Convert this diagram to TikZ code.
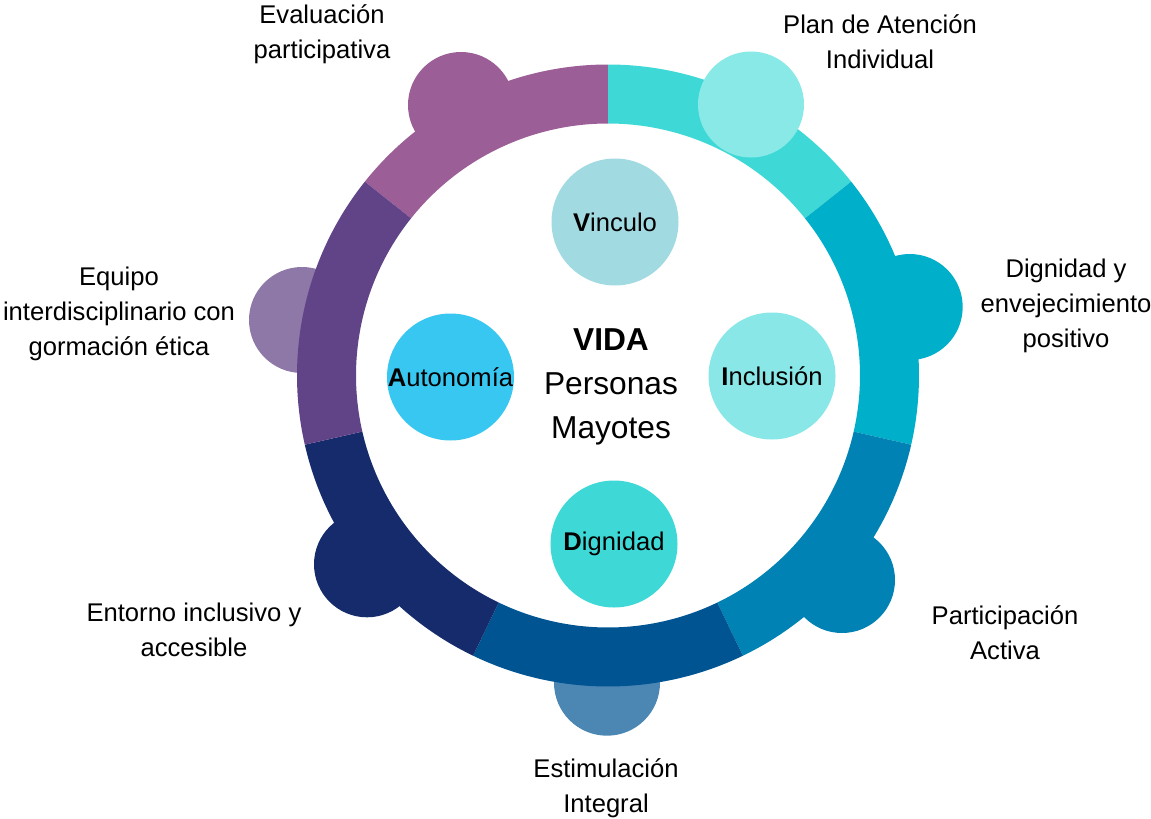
\documentclass[tikz,border=0pt]{standalone}
\usepackage{fontspec}
\setmainfont{Liberation Sans}
\usetikzlibrary{calc}
\definecolor{cEval}{HTML}{9B5E96}
\definecolor{cPlan}{HTML}{3ED9D6}
\definecolor{cPlanL}{HTML}{88E9E7}
\definecolor{cDig}{HTML}{00AFC9}
\definecolor{cPart}{HTML}{0083B4}
\definecolor{cEst}{HTML}{005492}
\definecolor{cEstL}{HTML}{4C87B4}
\definecolor{cEnt}{HTML}{152B6B}
\definecolor{cEq}{HTML}{614387}
\definecolor{cEqL}{HTML}{8E78A7}
\definecolor{cVin}{HTML}{A2DAE2}
\definecolor{cAut}{HTML}{38C7F0}
\definecolor{cInc}{HTML}{89E7E8}
\definecolor{cDgn}{HTML}{3ED9D6}
\newcommand\ringseg[3]{\fill[#3] ([shift={(#1:311pt)}]O) arc[start angle=#1,end angle=#2,radius=311pt] -- ([shift={(#2:252pt)}]O) arc[start angle=#2,end angle=#1,radius=252pt] -- cycle;}
\begin{document}
\begin{tikzpicture}[x=1pt,y=1pt,
  bump/.style={circle, inner sep=0pt, minimum size=106pt},
  innerc/.style={circle, inner sep=0pt, minimum size=127pt, font=\fontsize{25.6}{30}\selectfont},
  lbl/.style={align=center, font=\fontsize{25.6}{35}\selectfont, inner sep=0pt},
]
\useasboundingbox (0,0) rectangle (1151,-819);
\coordinate (O) at (608,-375.5);
% bumps behind the ring
\node[bump, fill=cEstL] (bEst) at (607,-682.7) {};
\node[bump, fill=cEqL] (bEq) at (302,-320) {};
\node[bump, fill=cEval] (bEval) at (461,-105) {};
\node[bump, fill=cDig] (bDig) at (909.7,-307) {};
\node[bump, fill=cPart] (bPart) at (842,-580) {};
\node[bump, fill=cEnt] (bEnt) at (367,-564.3) {};
% ring
\ringseg{90}{141.43}{cEval}
\ringseg{38.57}{90}{cPlan}
\ringseg{-12.86}{38.57}{cDig}
\ringseg{-64.29}{-12.86}{cPart}
\ringseg{-115.71}{-64.29}{cEst}
\ringseg{-167.14}{-115.71}{cEnt}
\ringseg{141.43}{192.86}{cEq}
% bump in front
\node[bump, fill=cPlanL] (bPlan) at (751,-104.5) {};
% inner circles
\node[innerc, fill=cVin] (vin) at (615,-222) {\textbf{V}inculo};
\node[innerc, fill=cAut] (aut) at (450.5,-377) {\textbf{A}utonomía};
\node[innerc, fill=cInc] (inc) at (772,-376) {\textbf{I}nclusión};
\node[innerc, fill=cDgn] (dgn) at (614,-544) {\textbf{D}ignidad};
% centre
\node[align=center, inner sep=0pt, font=\fontsize{31.7}{44}\selectfont] (vida) at (611,-386.5) {\textbf{VIDA}\\Personas\\Mayotes};
% labels
\node[lbl] (lEval) at (322,-34) {Evaluación\\participativa};
\node[lbl] (lPlan) at (880,-41.5) {Plan de Atención\\Individual};
\node[lbl] (lDig) at (1066,-306) {Dignidad y\\envejecimiento\\positivo};
\node[lbl] (lPart) at (1005,-632.5) {Participación\\Activa};
\node[lbl] (lEst) at (606,-788) {Estimulación\\Integral};
\node[lbl] (lEnt) at (194,-630) {Entorno inclusivo y\\accesible};
\node[lbl] (lEq) at (119,-314) {Equipo\\interdisciplinario con\\gormación ética};
\end{tikzpicture}
\end{document}
